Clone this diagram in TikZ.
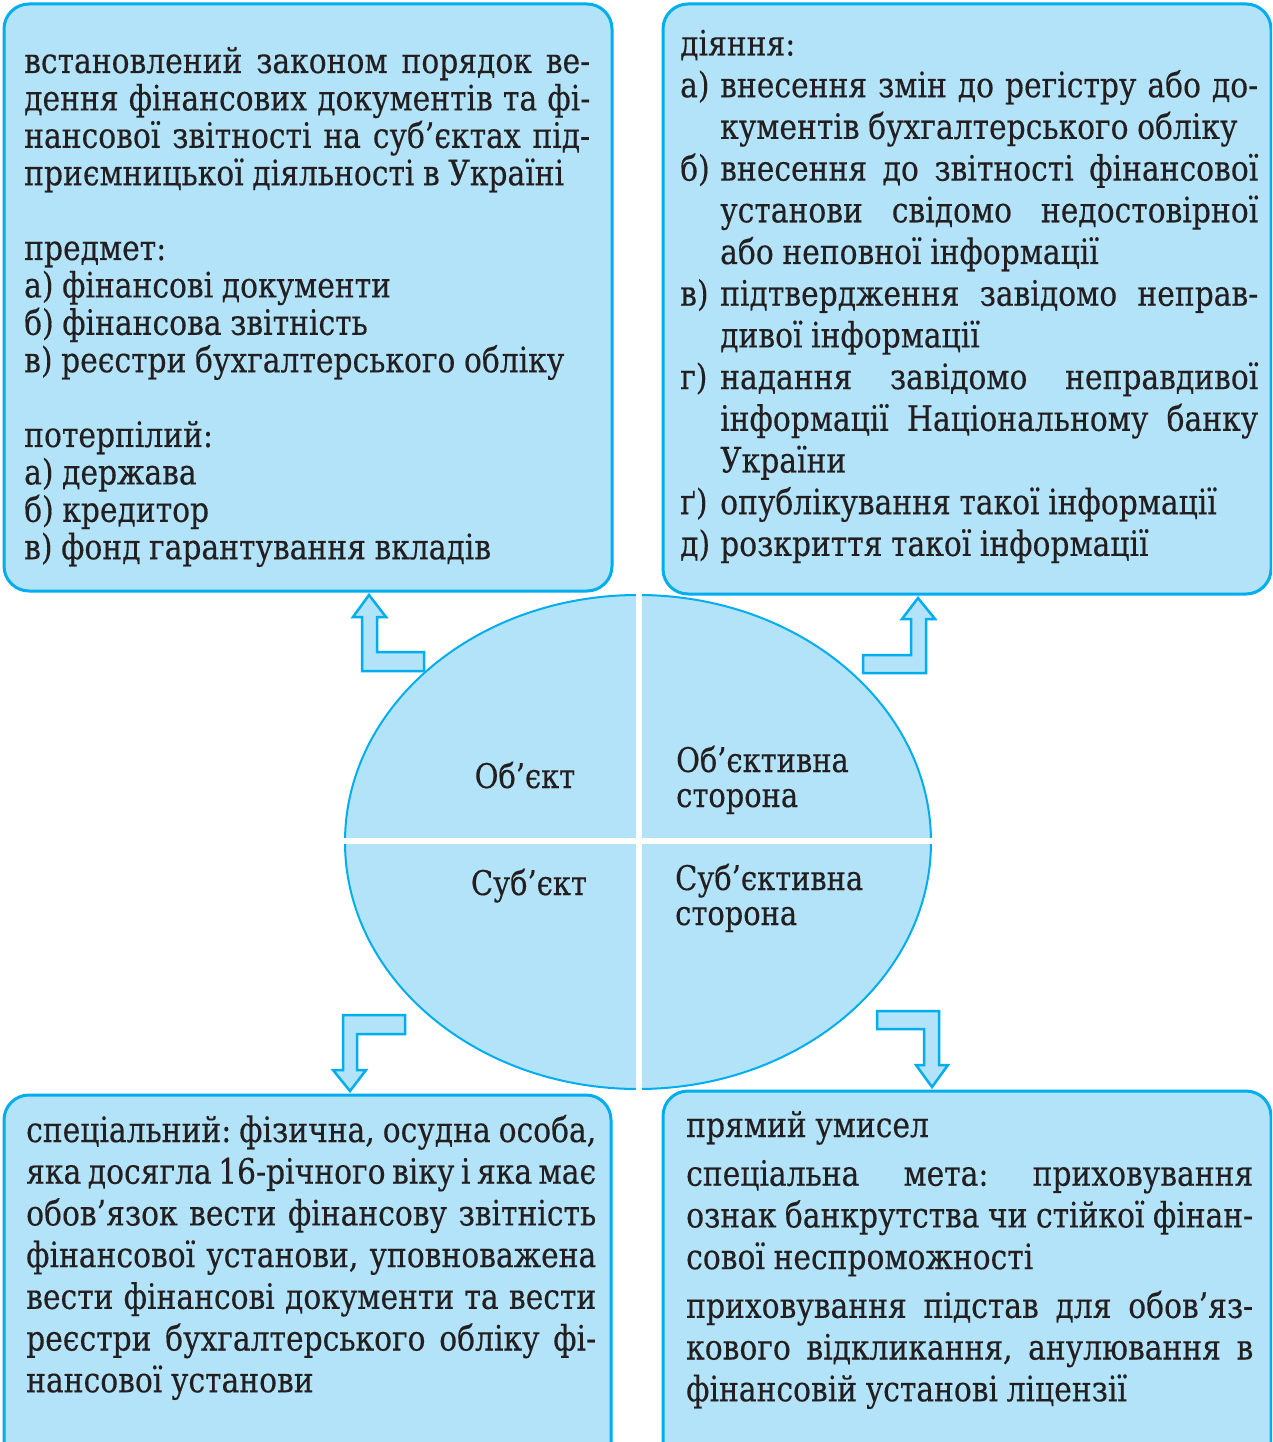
\documentclass[tikz,border=0pt]{standalone}
\usepackage{fontspec}
\setmainfont{DejaVu Serif}[FakeStretch=0.85,FakeBold=0.3]
\usetikzlibrary{shapes.geometric}
\definecolor{boxfill}{RGB}{179,227,248}
\definecolor{boxline}{RGB}{0,174,239}
\definecolor{ink}{RGB}{35,31,32}
\newcommand\lstitem[1]{\par\hangindent=40pt\hangafter=1\noindent\makebox[40pt][l]{#1}}
\tikzset{
  panel/.style={draw=boxline, fill=boxfill, line width=3pt, rounded corners=25pt},
  txt/.style={anchor=base west, inner sep=0pt, text=ink, align=justify,
    execute at begin node={\parindent=0pt\tolerance=10000\hyphenpenalty=10000\exhyphenpenalty=10000\frenchspacing\spaceskip=8.6pt plus 40pt minus 2.5pt}},
  tlfont/.style={font=\fontsize{35}{37.4}\selectfont},
  bfont/.style={font=\fontsize{35}{41.7}\selectfont},
  blockarrow/.style={draw=boxline, fill=boxfill, line width=2.5pt, line join=miter},
  qlabel/.style={text=ink, font=\fontsize{34}{35}\selectfont, inner sep=0pt},
  gap/.style={draw=white, line width=6pt}
}
\begin{document}
\begin{tikzpicture}[x=1pt,y=-1pt]
\useasboundingbox (0,0) rectangle (1272,1442);
\clip (0,0) rectangle (1272,1442);
\fill[white] (0,0) rectangle (1272,1442);

% panels
\draw[panel] (4,4) rectangle (612,591);
\draw[panel] (663,4) rectangle (1271,594);
\draw[panel] (4,1095) rectangle (611,1480);
\draw[panel] (663,1091) rectangle (1271,1480);

% top-left text
\node[txt, tlfont, text width=566pt] (tl) at (24,73) {%
встановлений законом порядок ве-\linebreak
дення фінансових документів та фі-\linebreak
нансової звітності на суб’єктах під-\linebreak
приємницької діяльності в Україні\par\vspace{37.4pt}
предмет:\\
а) фінансові документи\\
б) фінансова звітність\\
в) реєстри бухгалтерського обліку\par\vspace{37.4pt}
потерпілий:\\
а) держава\\
б) кредитор\\
в) фонд гарантування вкладів};

% top-right text
\node[txt, bfont, text width=578pt] (tr) at (680,55.5) {%
діяння:
\lstitem{а)}внесення змін до регістру або до-\linebreak
кументів бухгалтерського обліку
\lstitem{б)}внесення до звітності фінансової\linebreak
установи свідомо недостовірної\linebreak
або неповної інформації
\lstitem{в)}підтвердження завідомо неправ-\linebreak
дивої інформації
\lstitem{г)}надання завідомо неправдивої\linebreak
інформації Національному банку\linebreak
України
\lstitem{ґ)}опублікування такої інформації
\lstitem{д)}розкриття такої інформації\par};

% bottom-left text
\node[txt, bfont, text width=570pt] (bl) at (26,1142) {%
спеціальний: фізична, осудна особа,\linebreak
яка досягла 16-річного віку і яка має\linebreak
обов’язок вести фінансову звітність\linebreak
фінансової установи, уповноважена\linebreak
вести фінансові документи та вести\linebreak
реєстри бухгалтерського обліку фі-\linebreak
нансової установи};

% bottom-right text
\node[txt, bfont, text width=567pt, execute at begin node={\parskip=7pt}] (br) at (686,1137) {%
прямий умисел\par
спеціальна мета: приховування\linebreak
ознак банкрутства чи стійкої фінан-\linebreak
сової неспроможності\par
приховування підстав для обов’яз-\linebreak
кового відкликання, анулювання в\linebreak
фінансовій установі ліцензії};

% central ellipse
\node[ellipse, draw=boxline, fill=boxfill, line width=2pt, minimum width=586pt, minimum height=494pt, inner sep=0pt] (core) at (638,842) {};
\draw[gap] (638.5,588) -- (638.5,1096);
\draw[gap] (338,840.5) -- (938,840.5);

\node[qlabel, anchor=base] (obj) at (525,788) {Об’єкт};
\node[qlabel, anchor=base west, text width=220pt, align=left] (objside) at (676,772) {Об’єктивна\\сторона};
\node[qlabel, anchor=base] (subj) at (529,895) {Суб’єкт};
\node[qlabel, anchor=base west, text width=220pt, align=left] (subjside) at (675,890) {Суб’єктивна\\сторона};

% bent block arrows
\draw[blockarrow] (369,595) -- (386,617) -- (377,617) -- (377,652) -- (424,652) -- (424,671) -- (362,671) -- (362,617) -- (353,617) -- cycle;
\draw[blockarrow] (918,598) -- (935,619) -- (926,619) -- (926,673) -- (863,673) -- (863,655) -- (911,655) -- (911,619) -- (902,619) -- cycle;
\draw[blockarrow] (343,1015) -- (405,1015) -- (405,1034) -- (357,1034) -- (357,1070) -- (366,1070) -- (350,1091) -- (333,1070) -- (343,1070) -- cycle;
\draw[blockarrow] (877,1011) -- (939,1011) -- (939,1065) -- (948,1065) -- (932,1087) -- (916,1065) -- (924,1065) -- (924,1029) -- (877,1029) -- cycle;
\end{tikzpicture}
\end{document}
